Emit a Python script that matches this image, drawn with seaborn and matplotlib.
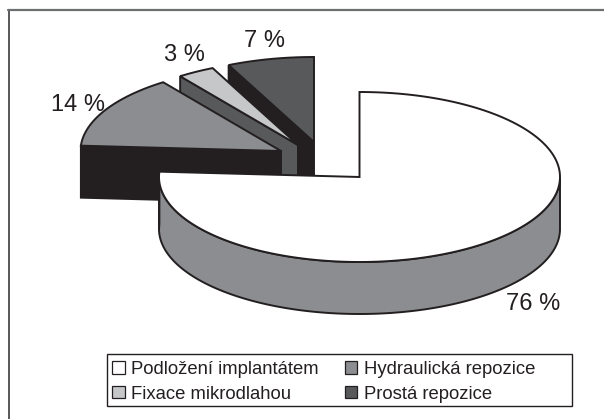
import numpy as np
import matplotlib
matplotlib.use("Agg")
import matplotlib.pyplot as plt
import seaborn as sns
from matplotlib.patches import Patch, Rectangle

# ------------------------
# Data
# ------------------------
categories = ["Podložení implantátem", "Hydraulická repozice", "Fixace mikrodlahou", "Prostá repozice"]
values = [76, 14, 3, 7]
labels = ["76 %", "14 %", "3 %", "7 %"]

top_colors = ["#ffffff", "#8c8d90", "#c6c7c9", "#58595b"]
wall_colors = ["#8c8d90", "#231f20", "#58595b", "#231f20"]
edge = "#231f20"

# slice apex in picture pixels, this is the explode of each slice
apex = [(359.5, 177), (281, 151), (298, 145), (314, 142)]
label_pos = [(533, 304), (78, 105), (184, 55), (264, 41)]
rx, ry, depth = 200.5, 85, 52

sns.set_style("white")
plt.rcParams["font.family"] = ["Liberation Sans", "DejaVu Sans"]

fig = plt.figure(figsize=(6.04, 4.19), dpi=100)
ax = fig.add_axes([0, 0, 1, 1])
ax.set_xlim(0, 604)
ax.set_ylim(419, 0)
ax.axis("off")

# only the top and left of the frame show
ax.plot([8.5, 8.5], [10, 419], color="#4a4a4c", lw=1.3)
ax.plot([8, 604], [10, 10], color="#6d6e70", lw=1.6)

# ------------------------
# Slice angles, clockwise from 12 o'clock
# ------------------------
stops = np.concatenate([[0], np.cumsum(values)]) / np.sum(values) * 2 * np.pi

# back to front so nearer slices cover the walls behind them
for z, i in enumerate([3, 2, 1, 0]):
    t = np.linspace(stops[i], stops[i + 1], 200)
    x = apex[i][0] + rx * np.sin(t)
    y = apex[i][1] - ry * np.cos(t)
    px = np.concatenate([[apex[i][0]], x, [apex[i][0]]])
    py = np.concatenate([[apex[i][1]], y, [apex[i][1]]])

    # outer wall, only the part facing the viewer
    front = (t >= np.pi / 2) & (t <= 3 * np.pi / 2)
    if front.any():
        ax.fill(np.concatenate([x[front], x[front][::-1]]),
                np.concatenate([y[front], y[front][::-1] + depth]),
                fc=wall_colors[i], ec=edge, lw=1.4, zorder=2 + z)
        if i == 0:
            ax.fill([x[-1], x[front][-1], x[front][-1], x[-1]],
                    [y[-1], y[front][-1], y[front][-1] + depth, y[-1] + depth],
                    fc=wall_colors[i], ec=edge, lw=1.4, zorder=2 + z)
    else:
        # cut wall on the left side of the exploded slices
        ax.fill([apex[i][0], x[0], x[0], apex[i][0]],
                [apex[i][1], y[0], y[0] + depth, apex[i][1] + depth],
                fc=wall_colors[i], ec=edge, lw=1.4, zorder=2 + z)
    ax.fill(px, py, fc=top_colors[i], ec=edge, lw=1.4, joinstyle="miter", zorder=2 + z)

for (lx, ly), s in zip(label_pos, labels):
    ax.text(lx, ly, s, fontsize=17, color=edge, ha="center", va="center", zorder=10)

# ------------------------
# Legend, filled column by column by matplotlib, box is wider than its content
# ------------------------
ax.add_patch(Rectangle((107, 353.5), 465, 52.5, fc="white", ec=edge, lw=1.0, zorder=11))
order = [0, 2, 1, 3]
handles = [Patch(fc=top_colors[i], ec=edge, lw=0.9) for i in order]
leg = ax.legend(handles, [categories[i] for i in order], ncol=2, loc="upper left",
                bbox_to_anchor=(112 / 604, 1 - 361 / 419), frameon=False,
                fontsize=13.3, labelcolor=edge,
                handlelength=0.7, handleheight=0.65, handletextpad=0.33, columnspacing=1.4,
                labelspacing=0.42, borderpad=0, borderaxespad=0)
leg.set_zorder(12)

fig.savefig("out.png", dpi=100)
